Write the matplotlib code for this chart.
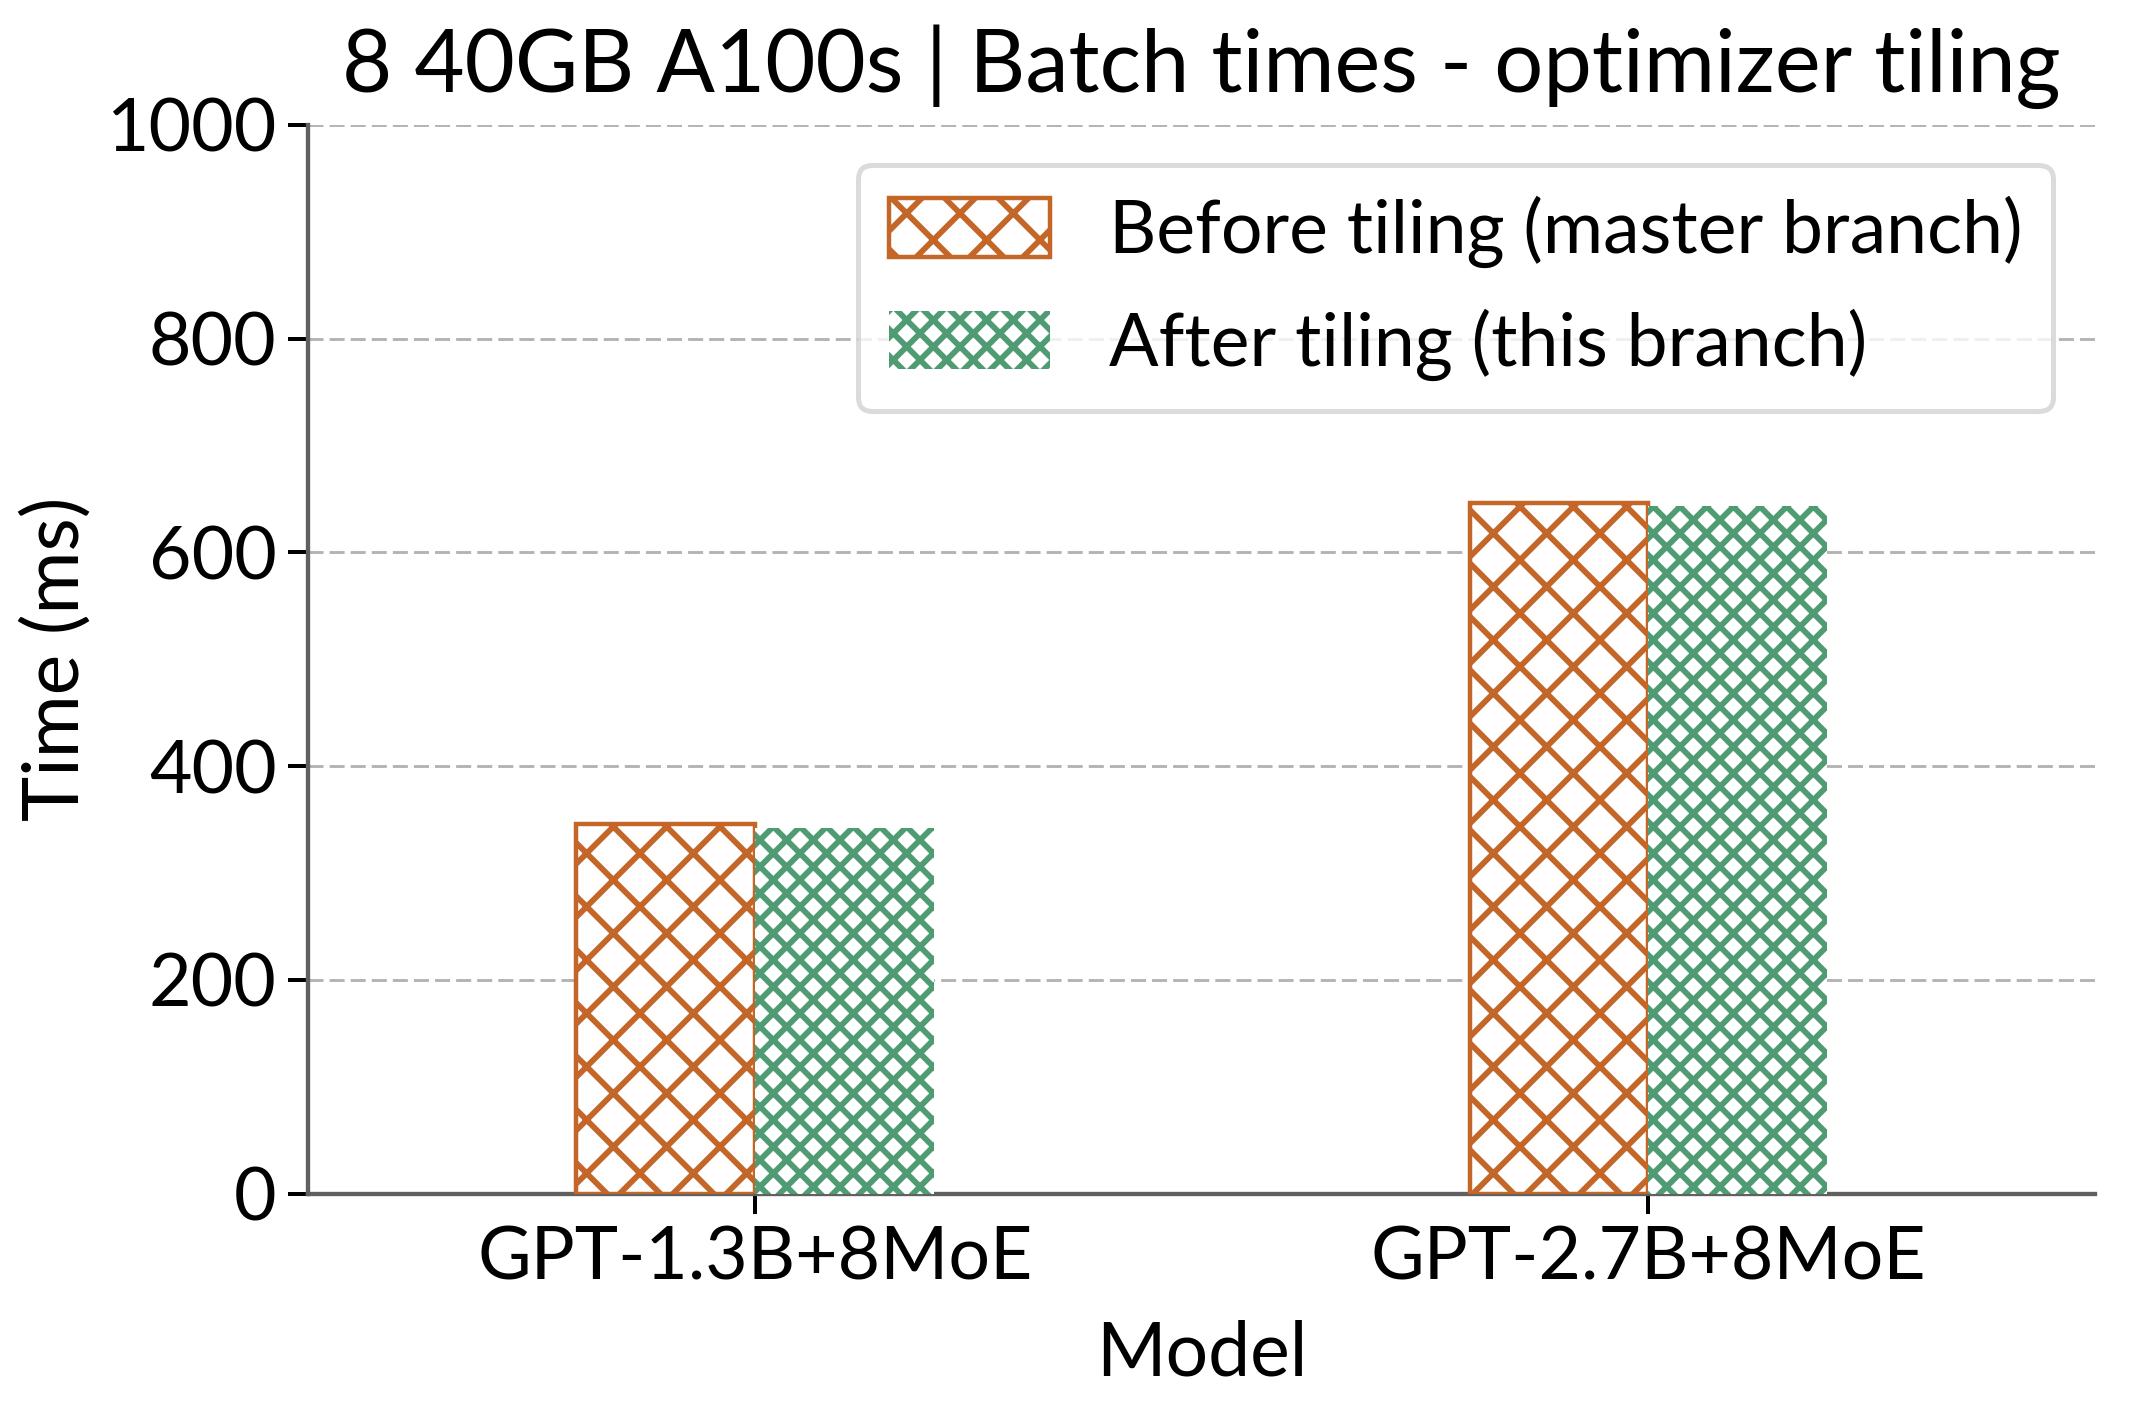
import matplotlib
matplotlib.use("Agg")
import matplotlib.pyplot as plt
import numpy as np

models = ["GPT-1.3B+8MoE", "GPT-2.7B+8MoE"]
before = [346, 646]
after = [342, 643]
series_labels = ["Before tiling (master branch)", "After tiling (this branch)"]

DPI = 160
S = 240 / DPI  # point-size scale relative to a 240-dpi design

plt.rcParams['font.family'] = ['Lato', 'DejaVu Sans']
plt.rcParams['hatch.linewidth'] = 2.6

orange = "#C36628"
green = "#4F9B73"

fig = plt.figure(figsize=(2129/DPI, 1411/DPI), dpi=DPI)
ax = fig.add_axes([0.1448, 0.154, 0.984-0.1448, 0.9115-0.154])

x = np.arange(len(models))
w = 0.2
ax.bar(x - w/2, before, w, color="white", edgecolor=orange, hatch="x",
       linewidth=2.0, label=series_labels[0], zorder=3)
ax.bar(x + w/2, after, w, color="white", edgecolor=green, hatch="xx",
       linewidth=0, label=series_labels[1], zorder=3)

ax.set_xlim(-0.5, 1.5)
ax.set_ylim(0, 1000)
ax.set_yticks([0, 200, 400, 600, 800, 1000])
ax.set_xticks(x)
ax.set_xticklabels(models)
ax.tick_params(axis='both', labelsize=22*S, length=6*S, width=1.2*S, color='black', pad=3.5*S)
ax.yaxis.grid(True, linestyle=(0, (5.2, 2.1)), color='#b3b3b3', linewidth=1.3, zorder=0)
ax.set_axisbelow(True)
for s in ['top', 'right']:
    ax.spines[s].set_visible(False)
for s in ['left', 'bottom']:
    ax.spines[s].set_color('#606060')
    ax.spines[s].set_linewidth(1.3*S)

ax.set_xlabel("Model", fontsize=22.5*S, labelpad=8*S)
ax.set_ylabel("Time (ms)", fontsize=23*S, labelpad=4*S)
ax.set_title("8 40GB A100s | Batch times - optimizer tiling", fontsize=26*S, pad=10*S)

leg = ax.legend(loc='upper right', fontsize=22*S, handlelength=2.2, handleheight=0.85,
                frameon=True, fancybox=True, borderpad=0.42, labelspacing=0.55,
                handletextpad=0.8, bbox_to_anchor=(0.997, 0.997))
leg.get_frame().set_edgecolor('#d2d2d2')
leg.get_frame().set_linewidth(1.5*S)

fig.savefig("out.png", dpi=DPI)
